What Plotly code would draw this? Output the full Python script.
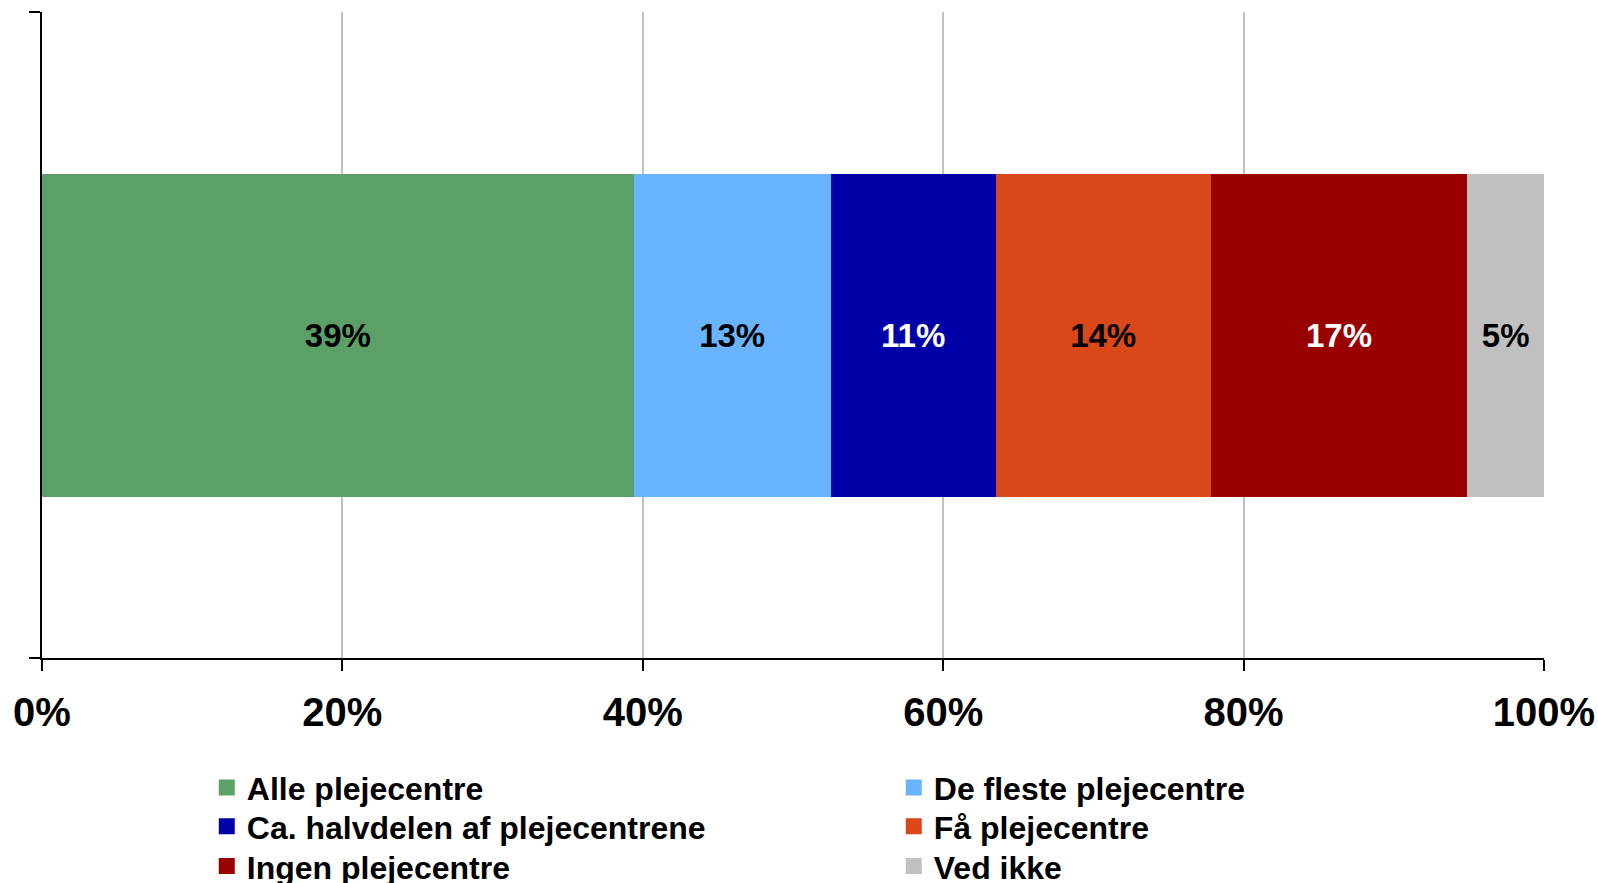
import plotly.graph_objects as go

series_names = ["Alle plejecentre", "De fleste plejecentre", "Ca. halvdelen af plejecentrene",
                "Få plejecentre", "Ingen plejecentre", "Ved ikke"]
series_values = [39.4, 13.1, 11.0, 14.3, 17.1, 5.1]
series_colors = ["#5BA167", "#69B4FF", "#0000A8", "#DA4719", "#990000", "#C0C0C0"]
label_colors = ["#000000", "#000000", "#FFFFFF", "#000000", "#FFFFFF", "#000000"]
x_ticks = [0, 20, 40, 60, 80, 100]
x_tick_labels = ["0%", "20%", "40%", "60%", "80%", "100%"]
category = [0]

FONT = "Liberation Sans, Arial, sans-serif"
legend_ids = ["legend", "legend", "legend2", "legend2", "legend3", "legend3"]

fig = go.Figure()
for name, val, col, lc in zip(series_names, series_values, series_colors, label_colors):
    fig.add_trace(go.Bar(
        y=category, x=[val], name=name, orientation="h",
        marker=dict(color=col, line=dict(width=0)),
        width=0.5,
        texttemplate="<b>%{x:.0f}%</b>",
        textposition="inside", insidetextanchor="middle",
        textfont=dict(family=FONT, size=33, color=lc),
        constraintext="none",
        hoverinfo="skip",
        showlegend=False,
    ))

# legend entries (square swatches)
for name, col, lid in zip(series_names, series_colors, legend_ids):
    fig.add_trace(go.Scatter(
        x=[None], y=[None], mode="markers", name=name,
        marker=dict(symbol="square", size=20, color=col, line=dict(width=0)),
        legend=lid, showlegend=True, hoverinfo="skip",
    ))

leg_common = dict(
    orientation="h", x=0.1097, xanchor="left", yanchor="middle",
    entrywidth=642, entrywidthmode="pixels",
    font=dict(family=FONT, size=32, color="#000000", weight="bold"),
    traceorder="normal", itemwidth=30, itemsizing="trace",
    bgcolor="rgba(0,0,0,0)",
)

fig.update_layout(
    barmode="stack",
    width=1598, height=883,
    margin=dict(l=42, r=54, t=12, b=225, autoexpand=False),
    paper_bgcolor="white", plot_bgcolor="white",
    font=dict(family=FONT, color="#000000"),
    showlegend=True,
    legend=dict(y=-0.2009, **leg_common),
    legend2=dict(y=-0.2608, **leg_common),
    legend3=dict(y=-0.3224, **leg_common),
    xaxis=dict(
        range=[0, 100], tickvals=x_ticks, ticktext=[f"<b>{t}</b>" for t in x_tick_labels],
        showgrid=True, gridcolor="#C0C0C0", gridwidth=2,
        showline=True, linecolor="#000000", linewidth=2,
        ticks="outside", ticklen=11, tickwidth=2, tickcolor="#000000",
        tickfont=dict(family=FONT, size=40, color="#000000"),
        ticklabelstandoff=7, automargin=False,
        zeroline=False, fixedrange=True,
    ),
    yaxis=dict(
        range=[-0.5, 0.5], tickvals=[-0.5, 0.5], showticklabels=False,
        showgrid=False, zeroline=False,
        showline=True, linecolor="#000000", linewidth=2,
        ticks="outside", ticklen=11, tickwidth=2, tickcolor="#000000",
        automargin=False, fixedrange=True,
    ),
)

fig.write_html(
    "out.html",
    config={"displayModeBar": False},
    post_script="document.body.style.margin='0';document.body.style.overflow='hidden';",
)
